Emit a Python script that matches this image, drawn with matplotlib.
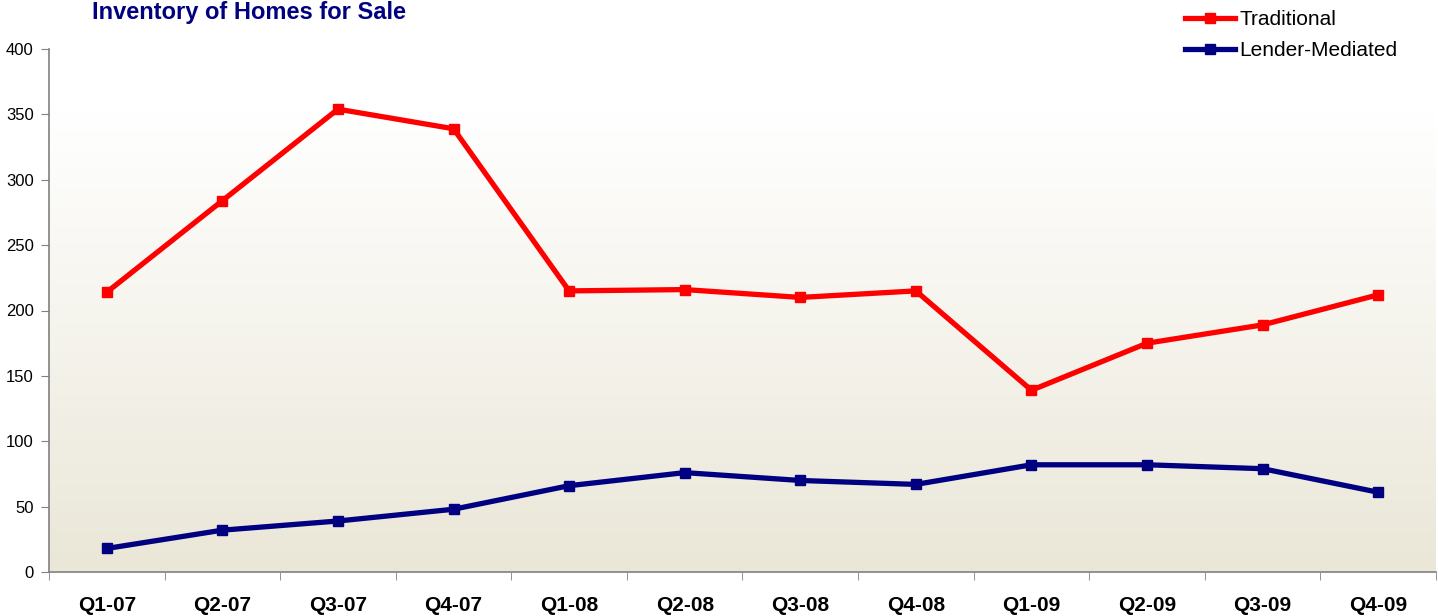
import numpy as np
import matplotlib.pyplot as plt
from matplotlib.colors import LinearSegmentedColormap

plt.rcParams['font.family'] = ['Liberation Sans', 'DejaVu Sans']

quarters = ["Q1-07", "Q2-07", "Q3-07", "Q4-07", "Q1-08", "Q2-08",
            "Q3-08", "Q4-08", "Q1-09", "Q2-09", "Q3-09", "Q4-09"]
traditional = [214, 284, 354, 339, 215, 216, 210, 215, 139, 175, 189, 212]
lender_mediated = [18, 32, 39, 48, 66, 76, 70, 67, 82, 82, 79, 61]
y_ticks = [0, 50, 100, 150, 200, 250, 300, 350, 400]

fig = plt.figure(figsize=(14.38, 6.16), dpi=100)
ax = fig.add_axes([49/1438, 44/616, (1436-49)/1438, (572-49)/616])

# gradient background (white at top -> beige at bottom)
cmap = LinearSegmentedColormap.from_list("bg", [(0, "#EAE7D8"), (0.88, "#FFFFFF"), (1, "#FFFFFF")])
grad = np.linspace(0, 1, 256).reshape(-1, 1)
ax.imshow(grad, cmap=cmap, aspect="auto", extent=[0, 1, 0, 1], origin="lower",
          transform=ax.transAxes, zorder=0)

x = np.arange(len(quarters))
ax.plot(x, traditional, color="#FF0000", lw=3.8, marker="s", ms=7.5, label="Traditional", zorder=3)
ax.plot(x, lender_mediated, color="#000080", lw=3.8, marker="s", ms=7.5, label="Lender-Mediated", zorder=3)

ax.set_xlim(-0.5, len(quarters) - 0.5)
ax.set_ylim(0, 400)
ax.set_yticks(y_ticks)
ax.set_xticks(x)
ax.set_xticklabels(quarters, fontsize=15, fontweight="bold")
ax.set_xticks(np.arange(-0.5, len(quarters)), minor=True)
ax.tick_params(axis="x", which="major", length=0, pad=17)
ax.tick_params(axis="x", which="minor", length=6, color="#808080", direction="out")
ax.tick_params(axis="y", labelsize=12, length=6, color="#808080", pad=5)

for s in ["top", "right"]:
    ax.spines[s].set_visible(False)
for s in ["left", "bottom"]:
    ax.spines[s].set_color("#808080")
    ax.spines[s].set_linewidth(1.2)

fig.text(92/1438, (616-19)/616, "Inventory of Homes for Sale", fontsize=17,
         fontweight="bold", color="#000080", ha="left", va="baseline")

fig.legend(loc="upper left", bbox_to_anchor=(1185/1438, (616-10)/616), frameon=False,
           fontsize=15, handlelength=2.4, handletextpad=0.2, labelspacing=0.58,
           borderpad=0, borderaxespad=0)

fig.savefig("out.png", dpi=100)
